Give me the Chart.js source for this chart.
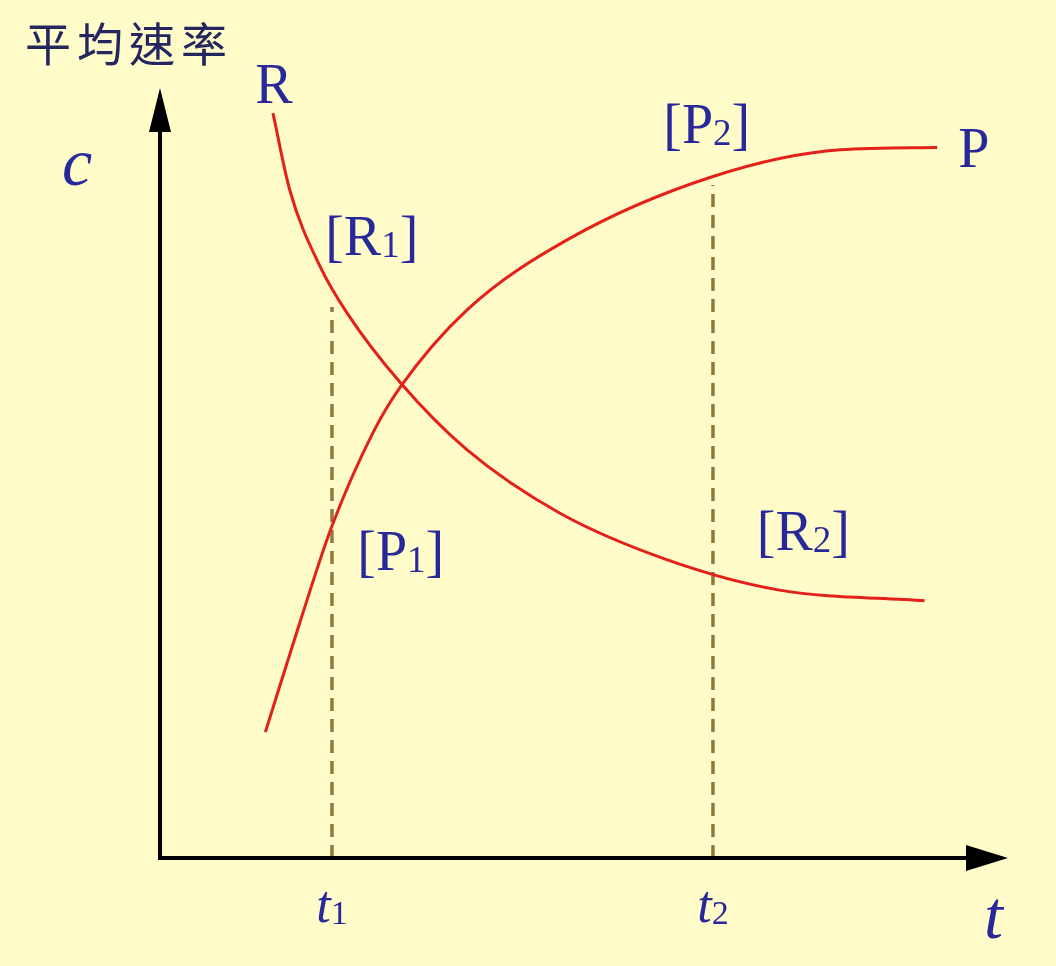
<!DOCTYPE html>
<html>
<head>
<meta charset="utf-8">
<script src="https://cdn.jsdelivr.net/npm/chart.js@4"></script>
<style>
  html, body { margin: 0; padding: 0; background: #fffcc9; }
  canvas { display: block; }
</style>
</head>
<body>
<canvas id="rateChart" width="1056" height="966"></canvas>
<script>
// Reactant R and product P concentration vs time
const rTime = [13.4, 15.4, 19.0, 22.2, 28.5, 36.4, 47.4, 60.1, 73.5, 90.7];
const rConc = [97.6, 87.5, 77.5, 71.4, 62.3, 53.5, 45.2, 39.1, 35.1, 33.7];

const pTime = [12.5, 16.6, 20.4, 25.3, 28.5, 36.4, 48.3, 65.6, 80.7, 92.2];
const pConc = [16.5, 30.9, 43.5, 55.8, 61.7, 71.8, 81.0, 89.3, 92.8, 93.1];

// the two marked instants and where their dashed guides stop
const markTimes = [20.4, 65.6];
const markTops = [72.2, 88.2];
const markNames = ['1', '2'];

const axisMaxT = 100.6;
const axisMaxC = 100.9;

const toPoints = (xs, ys) => xs.map((x, i) => ({ x: x, y: ys[i] }));

const RED = '#e4201a';
const DASH = '#8f7a3c';
const BLUE = '#28289a';
const SERIF = '"Liberation Serif", "DejaVu Serif", serif';

// Draws [R₁] style text: main part, small subscript, closing part
function drawSubText(ctx, x, y, main, sub, tail, size) {
    ctx.font = size + 'px ' + SERIF;
    ctx.fillText(main, x, y);
    x += ctx.measureText(main).width;
    if (sub) {
        ctx.font = Math.round(size * 0.66) + 'px ' + SERIF;
        ctx.fillText(sub, x, y + 2);
        x += ctx.measureText(sub).width;
    }
    if (tail) {
        ctx.font = size + 'px ' + SERIF;
        ctx.fillText(tail, x, y);
    }
}

const decorPlugin = {
    id: 'decor',
    beforeDraw(chart) {
        const ctx = chart.ctx;
        ctx.save();
        ctx.fillStyle = '#fffcc9';
        ctx.fillRect(0, 0, chart.width, chart.height);
        ctx.restore();
    },
    afterDatasetsDraw(chart) {
        const ctx = chart.ctx;
        const xs = chart.scales.x;
        const ys = chart.scales.y;
        const x0 = xs.getPixelForValue(0);
        const y0 = ys.getPixelForValue(0);
        const xEnd = xs.getPixelForValue(axisMaxT);
        const yEnd = ys.getPixelForValue(axisMaxC);

        ctx.save();
        // axes
        ctx.strokeStyle = '#000';
        ctx.fillStyle = '#000';
        ctx.lineWidth = 4;
        ctx.beginPath();
        ctx.moveTo(x0, y0);
        ctx.lineTo(x0, yEnd + 30);
        ctx.moveTo(x0 - 2, y0);
        ctx.lineTo(xEnd - 30, y0);
        ctx.stroke();
        // arrow heads
        ctx.beginPath();
        ctx.moveTo(x0, yEnd);
        ctx.lineTo(x0 - 11, yEnd + 44);
        ctx.lineTo(x0 + 11, yEnd + 44);
        ctx.closePath();
        ctx.fill();
        ctx.beginPath();
        ctx.moveTo(xEnd, y0);
        ctx.lineTo(xEnd - 42, y0 - 13);
        ctx.lineTo(xEnd - 42, y0 + 13);
        ctx.closePath();
        ctx.fill();

        // curve labels
        ctx.fillStyle = BLUE;
        ctx.textBaseline = 'alphabetic';
        ctx.textAlign = 'left';
        const lbl = (t, c) => [xs.getPixelForValue(t), ys.getPixelForValue(c)];
        let p = lbl(11.3, 98.9);
        drawSubText(ctx, p[0], p[1], 'R', '', '', 56);
        p = lbl(94.7, 90.6);
        drawSubText(ctx, p[0], p[1], 'P', '', '', 56);
        p = lbl(19.6, 79.0);
        drawSubText(ctx, p[0], p[1], '[R', '1', ']', 56);
        p = lbl(23.4, 37.7);
        drawSubText(ctx, p[0], p[1], '[P', '1', ']', 56);
        p = lbl(59.7, 93.7);
        drawSubText(ctx, p[0], p[1], '[P', '2', ']', 56);
        p = lbl(70.8, 40.4);
        drawSubText(ctx, p[0], p[1], '[R', '2', ']', 56);

        // axis names
        ctx.font = 'italic 68px ' + SERIF;
        ctx.fillText('c', x0 - 98, ys.getPixelForValue(88.2));
        ctx.fillText('t', xEnd - 24, y0 + 80);

        // time marks t1, t2
        markTimes.forEach((t, i) => {
            const px = xs.getPixelForValue(t);
            ctx.font = 'italic 52px ' + SERIF;
            const wT = ctx.measureText('t').width;
            ctx.font = '34px ' + SERIF;
            const wS = ctx.measureText(markNames[i]).width;
            const left = px - (wT + wS) / 2;
            ctx.font = 'italic 52px ' + SERIF;
            ctx.fillText('t', left, y0 + 64);
            ctx.font = '34px ' + SERIF;
            ctx.fillText(markNames[i], left + wT, y0 + 66);
        });

        // title
        ctx.fillStyle = '#252560';
        ctx.font = '46px "Noto Sans CJK TC", "Noto Sans CJK SC", sans-serif';
        ctx.textBaseline = 'middle';
        ctx.textAlign = 'center';
        '平均速率'.split('').forEach((ch, i) => {
            ctx.fillText(ch, 48 + i * 52, 44);
        });
        ctx.restore();
    }
};

const datasets = [
    {
        label: 'R',
        data: toPoints(rTime, rConc),
        borderColor: RED,
        borderWidth: 3,
        cubicInterpolationMode: 'monotone'
    },
    {
        label: 'P',
        data: toPoints(pTime, pConc),
        borderColor: RED,
        borderWidth: 3,
        cubicInterpolationMode: 'monotone'
    }
];

markTimes.forEach((t, i) => {
    datasets.push({
        label: 't' + markNames[i],
        data: [{ x: t, y: 0 }, { x: t, y: markTops[i] }],
        borderColor: DASH,
        borderWidth: 3.5,
        borderDash: [13, 8]
    });
});

new Chart(document.getElementById('rateChart'), {
    type: 'scatter',
    data: { datasets: datasets },
    options: {
        responsive: false,
        animation: false,
        showLine: true,
        elements: { point: { radius: 0 } },
        layout: { padding: { left: 160, right: 48, top: 88, bottom: 108 } },
        plugins: {
            legend: { display: false },
            tooltip: { enabled: false }
        },
        scales: {
            x: { type: 'linear', min: 0, max: axisMaxT, display: false },
            y: { type: 'linear', min: 0, max: axisMaxC, display: false }
        }
    },
    plugins: [decorPlugin]
});
</script>
</body>
</html>
